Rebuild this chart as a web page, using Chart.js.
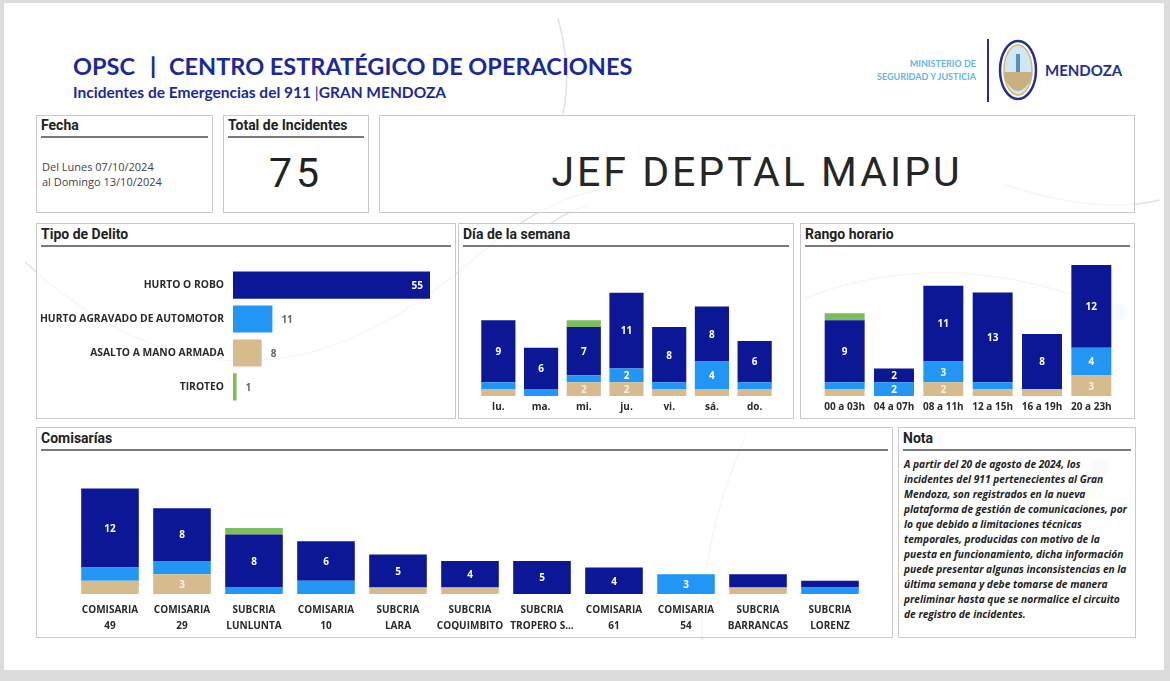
<!DOCTYPE html>
<html>
<head>
<meta charset="utf-8">
<script src="https://cdn.jsdelivr.net/npm/chart.js@4.4.1/dist/chart.umd.min.js"></script>
<style>
  body { margin:0; width:1170px; height:681px; background:#dcdcdc; font-family:"Open Sans", sans-serif; overflow:hidden; }
  #page { position:absolute; left:4px; top:3px; width:1160px; height:667px; background:#fff; }
  .abs { position:absolute; white-space:nowrap; }
  .panel { position:absolute; border:1px solid #c9c9c9; background:rgba(255,255,255,0.7); box-sizing:border-box; }
  .ptitle { position:absolute; left:4px; top:2px; font:bold 14px Roboto, sans-serif; color:#222; }
  .pline { position:absolute; left:4px; right:4px; top:21px; height:2px; background:#7a7a7a; }
  .hd { position:absolute; font:bold 23.5px Lato, sans-serif; color:#1b2a9a; white-space:nowrap; }
  canvas { position:absolute; }
  #deco { position:absolute; left:0; top:0; }
</style>
</head>
<body>
<div id="page"></div>
<svg id="deco" width="1170" height="681">
  <g fill="none" stroke="#e2e2e2" stroke-width="1.5">
    <path d="M 25 262 Q 240 460 470 262 Q 540 200 600 190" />
    <path d="M 558 18 Q 572 70 563 115" />
    <path d="M 588 205 Q 560 215 548 226" />
    <path d="M 800 300 Q 950 240 1118 312" />
    <path d="M 745 438 Q 700 540 702 640" />
    <path d="M 1005 185 Q 1100 215 1160 200" />
  </g>
  <circle cx="1118" cy="312" r="9" fill="#e3eef8" />
  <circle cx="1100" cy="468" r="9" fill="#eeeeee" />
</svg>

<!-- header -->
<div class="hd" style="left:73px;top:52px;">OPSC</div>
<div class="hd" style="left:150px;top:51px;font-weight:900;">|</div>
<div class="hd" style="left:169px;top:52px;">CENTRO ESTRATÉGICO DE OPERACIONES</div>
<div class="abs" style="left:73px;top:83px;font:bold 15.5px Lato, sans-serif;color:#1b2a9a;">Incidentes de Emergencias del 911 <span style="font-weight:400">|</span>GRAN MENDOZA</div>

<div class="abs" style="left:850px;top:57px;width:126px;text-align:right;font:bold 9px Lato, sans-serif;color:#5fb6e6;line-height:13px;">MINISTERIO DE<br>SEGURIDAD Y JUSTICIA</div>
<div class="abs" style="left:987px;top:39px;width:2px;height:63px;background:#2a2f8c;"></div>
<svg class="abs" style="left:996px;top:38px;" width="44" height="66">
  <ellipse cx="22" cy="32" rx="18" ry="29" fill="#fff" stroke="#24308f" stroke-width="2.5"/>
  <ellipse cx="22" cy="32" rx="14" ry="25" fill="#cfe8f7" stroke="#d8b86a" stroke-width="1.5"/>
  <path d="M 8 34 L 36 34 L 36 40 Q 22 66 8 40 Z" fill="#c9b081"/>
  <path d="M 20 16 L 24 16 L 24 34 L 20 34 Z" fill="#5a8fc0"/>
</svg>
<div class="abs" style="left:1045px;top:61px;font:bold 15px Lato, sans-serif;color:#24308f;">MENDOZA</div>

<!-- top boxes -->
<div class="panel" style="left:36px;top:115px;width:177px;height:98px;">
  <div class="ptitle" style="top:1px">Fecha</div>
  <div class="pline" style="top:20px"></div>
  <div class="abs" style="left:5px;top:43px;font:11px 'Open Sans', sans-serif;color:#444;line-height:15px;">Del Lunes 07/10/2024<br>al Domingo 13/10/2024</div>
</div>
<div class="panel" style="left:223px;top:115px;width:146px;height:98px;">
  <div class="ptitle" style="top:1px">Total de Incidentes</div>
  <div class="pline" style="top:20px"></div>
  <div class="abs" style="left:0;right:0;top:33px;text-align:center;font:41px Roboto, sans-serif;color:#222;letter-spacing:4px;">75</div>
</div>
<div class="panel" style="left:379px;top:115px;width:756px;height:98px;">
  <div class="abs" style="left:0;right:0;top:32px;text-align:center;font:41px Roboto, sans-serif;color:#262626;letter-spacing:3px;">JEF DEPTAL MAIPU</div>
</div>

<!-- chart panels -->
<div class="panel" style="left:36px;top:223px;width:420px;height:196px;">
  <div class="ptitle">Tipo de Delito</div><div class="pline"></div>
</div>
<div class="panel" style="left:458px;top:223px;width:336px;height:196px;">
  <div class="ptitle">Día de la semana</div><div class="pline"></div>
</div>
<div class="panel" style="left:800px;top:223px;width:335px;height:196px;">
  <div class="ptitle">Rango horario</div><div class="pline"></div>
</div>
<div class="panel" style="left:36px;top:427px;width:857px;height:211px;">
  <div class="ptitle">Comisarías</div><div class="pline"></div>
</div>
<div class="panel" style="left:898px;top:427px;width:238px;height:211px;">
  <div class="ptitle">Nota</div><div class="pline"></div>
  <div class="abs" style="left:5px;top:29px;font:italic bold 10.2px 'Open Sans', sans-serif;color:#222;line-height:15px;">A partir del 20 de agosto de 2024, los<br>incidentes del 911 pertenecientes al Gran<br>Mendoza, son registrados en la nueva<br>plataforma de gestión de comunicaciones, por<br>lo que debido a limitaciones técnicas<br>temporales, producidas con motivo de la<br>puesta en funcionamiento, dicha información<br>puede presentar algunas inconsistencias en la<br>última semana y debe tomarse de manera<br>preliminar hasta que se normalice el circuito<br>de registro de incidentes.</div>
</div>

<canvas id="cTipo" width="414" height="166" style="left:36px;top:253px;"></canvas>
<canvas id="cDia" width="330" height="156" style="left:462px;top:262px;"></canvas>
<canvas id="cRango" width="328" height="156" style="left:804px;top:262px;"></canvas>
<canvas id="cCom" width="848" height="180" style="left:40px;top:455px;"></canvas>

<script>
// colores por tipo de delito
var NAVY = "#0c1796", BLUE = "#2196f5", TAN = "#d5bb8d", GREEN = "#7dbd5c";

// Tipo de Delito
var tipos = ["HURTO O ROBO", "HURTO AGRAVADO DE AUTOMOTOR", "ASALTO A MANO ARMADA", "TIROTEO"];
var tipoTotales = [55, 11, 8, 1];

// Dia de la semana
var dias = ["lu.", "ma.", "mi.", "ju.", "vi.", "sá.", "do."];
var diaRobo = [9, 6, 7, 11, 8, 8, 6];
var diaAuto = [1, 1, 1, 2, 1, 4, 1];
var diaAsalto = [1, 0, 2, 2, 1, 1, 1];
var diaTiroteo = [0, 0, 1, 0, 0, 0, 0];

// Rango horario
var rangos = ["00 a 03h", "04 a 07h", "08 a 11h", "12 a 15h", "16 a 19h", "20 a 23h"];
var rangoRobo = [9, 2, 11, 13, 8, 12];
var rangoAuto = [1, 2, 3, 1, 0, 4];
var rangoAsalto = [1, 0, 2, 1, 1, 3];
var rangoTiroteo = [1, 0, 0, 0, 0, 0];

// Comisarias
var comisarias = [["COMISARIA", "49"], ["COMISARIA", "29"], ["SUBCRIA", "LUNLUNTA"], ["COMISARIA", "10"],
    ["SUBCRIA", "LARA"], ["SUBCRIA", "COQUIMBITO"], ["SUBCRIA", "TROPERO S..."], ["COMISARIA", "61"],
    ["COMISARIA", "54"], ["SUBCRIA", "BARRANCAS"], ["SUBCRIA", "LORENZ"]];
var comRobo = [12, 8, 8, 6, 5, 4, 5, 4, 0, 2, 1];
var comAuto = [2, 2, 1, 2, 0, 0, 0, 0, 3, 0, 1];
var comAsalto = [2, 3, 0, 0, 1, 1, 0, 0, 0, 1, 0];
var comTiroteo = [0, 0, 1, 0, 0, 0, 0, 0, 0, 0, 0];

Chart.defaults.font.family = "'Open Sans', sans-serif";
Chart.defaults.animation = false;

// etiquetas dentro de las barras apiladas (solo si entran)
var stackLabels = {
    id: "stackLabels",
    afterDatasetsDraw: function(chart){
        var ctx = chart.ctx;
        ctx.save();
        ctx.font = "bold 10px 'Open Sans', sans-serif";
        ctx.textAlign = "center";
        ctx.textBaseline = "middle";
        chart.data.datasets.forEach(function(ds, di){
            chart.getDatasetMeta(di).data.forEach(function(bar, i){
                var v = ds.data[i];
                if (!v) return;
                if (Math.abs(bar.base - bar.y) < 13.5) return;
                ctx.fillStyle = ds.labelColor;
                ctx.fillText(v, bar.x, (bar.y + bar.base) / 2 + 1);
            });
        });
        ctx.restore();
    }
};

// etiquetas de la barra horizontal
var hLabels = {
    id: "hLabels",
    afterDatasetsDraw: function(chart){
        var ctx = chart.ctx;
        ctx.save();
        ctx.font = "bold 10px 'Open Sans', sans-serif";
        ctx.textBaseline = "middle";
        chart.getDatasetMeta(0).data.forEach(function(bar, i){
            var v = tipoTotales[i];
            if (i == 0){
                ctx.textAlign = "right";
                ctx.fillStyle = "#fff";
                ctx.fillText(v, bar.x - 7, bar.y + 1);
            } else {
                ctx.textAlign = "left";
                ctx.fillStyle = "#666";
                ctx.fillText(v, bar.x + 9, bar.y + 1);
            }
        });
        ctx.restore();
    }
};

function stacked(robo, auto, asalto, tiro){
    return [
        { label: "ASALTO A MANO ARMADA", data: asalto, backgroundColor: TAN, labelColor: "#f6efe2" },
        { label: "HURTO AGRAVADO DE AUTOMOTOR", data: auto, backgroundColor: BLUE, labelColor: "#fff" },
        { label: "HURTO O ROBO", data: robo, backgroundColor: NAVY, labelColor: "#fff" },
        { label: "TIROTEO", data: tiro, backgroundColor: GREEN, labelColor: "#fff" }
    ];
}

function columnChart(id, labels, datasets, ymax, pad, axisH, barPct, tickPad, lineH){
    datasets.forEach(function(d){ d.barPercentage = barPct; d.categoryPercentage = 1; });
    return new Chart(document.getElementById(id), {
        type: "bar",
        data: { labels: labels, datasets: datasets },
        options: {
            responsive: false,
            devicePixelRatio: 1,
            layout: { padding: pad },
            plugins: { legend: { display: false }, tooltip: { enabled: false } },
            scales: {
                x: {
                    stacked: true,
                    grid: { display: false, drawTicks: false },
                    border: { display: false },
                    ticks: { color: "#2a2a2a", font: { size: 10, weight: "bold", lineHeight: lineH }, padding: tickPad, maxRotation: 0, autoSkip: false },
                    afterFit: function(s){ s.height = axisH; }
                },
                y: { stacked: true, display: false, min: 0, max: ymax }
            }
        },
        plugins: [stackLabels]
    });
}

new Chart(document.getElementById("cTipo"), {
    type: "bar",
    data: {
        labels: tipos,
        datasets: [{
            data: tipoTotales,
            backgroundColor: [NAVY, BLUE, TAN, GREEN],
            barPercentage: 0.8,
            categoryPercentage: 1
        }]
    },
    options: {
        indexAxis: "y",
        responsive: false,
        devicePixelRatio: 1,
        layout: { padding: { top: 0, bottom: 0, right: 20, left: 0 } },
        plugins: { legend: { display: false }, tooltip: { enabled: false } },
        scales: {
            x: { display: false, min: 0, max: 55 },
            y: {
                grid: { display: false, drawTicks: false },
                border: { display: false },
                ticks: { color: "#2a2a2a", font: { size: 10.3, weight: "bold" }, padding: 9 },
                afterFit: function(s){ s.width = 197; }
            }
        }
    },
    plugins: [hLabels]
});

columnChart("cDia", dias, stacked(diaRobo, diaAuto, diaAsalto, diaTiroteo), 18,
    { top: 10, bottom: 4, left: 15, right: 16 }, 18, 0.8, 5, 1.2);
columnChart("cRango", rangos, stacked(rangoRobo, rangoAuto, rangoAsalto, rangoTiroteo), 19,
    { top: 3, bottom: 4, left: 16, right: 16 }, 18, 0.81, 5, 1.2);
columnChart("cCom", comisarias, stacked(comRobo, comAuto, comAsalto, comTiroteo), 20,
    { top: 7, bottom: 5, left: 34, right: 22 }, 36, 0.8, 8, 1.6);
</script>
</body>
</html>
